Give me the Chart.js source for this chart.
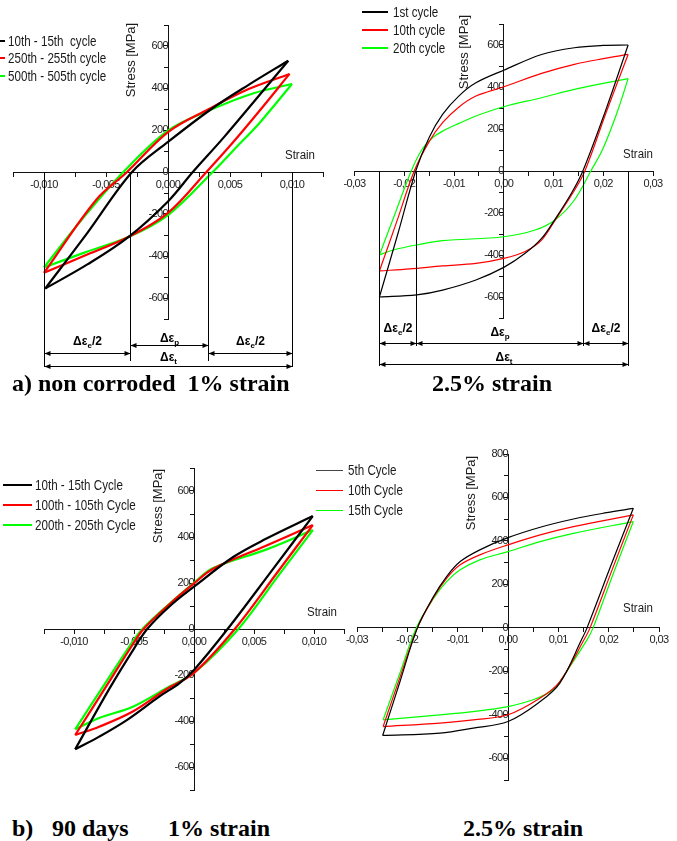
<!DOCTYPE html>
<html>
<head>
<meta charset="utf-8">
<script src="https://cdn.jsdelivr.net/npm/chart.js@4.4.1/dist/chart.umd.min.js"></script>
<style>
  html, body { margin:0; padding:0; background:#fff; }
  #page { position:relative; width:677px; height:841px; overflow:hidden; background:#fff; }
  canvas { position:absolute; }
  .t { position:absolute; white-space:pre; color:#1a1a1a; font-family:"Liberation Sans", Arial, sans-serif; }
  .leg { font-size:14px; line-height:16px; transform:scaleX(0.83); transform-origin:0 50%; }
  .ttl { font-size:13px; line-height:15px; transform:translate(-50%,-50%) rotate(-90deg); }
  .strain { font-size:12.5px; line-height:14px; transform:translate(-50%,-50%) scaleX(0.92); }
  .cap { font-family:"Liberation Serif", "Times New Roman", serif; font-weight:bold; font-size:24px; line-height:26px; color:#000; }
  .ln { position:absolute; }
</style>
</head>
<body>
<div id="page">
  <canvas id="cA1" width="340" height="375" style="left:0;top:0;width:340px;height:375px"></canvas>
  <canvas id="cA2" width="337" height="375" style="left:340px;top:0;width:337px;height:375px"></canvas>
  <canvas id="cB1" width="350" height="360" style="left:0;top:440px;width:350px;height:360px"></canvas>
  <canvas id="cB2" width="337" height="360" style="left:340px;top:440px;width:337px;height:360px"></canvas>
</div>
<script>
// ---- data (strain [-], stress [MPa]); each loop: compression tip -> tension tip -> back
const colors = ["#000000", "#ff0000", "#00ff00"];

// a) non corroded, 1% strain
const a1Labels = ["10th - 15th  cycle", "250th - 255th cycle", "500th - 505th cycle"];
const a1Strain1 = [-0.0099, -0.0065, -0.0029, 0.0000, 0.0035, 0.0065, 0.0097, 0.0075, 0.0045, 0.0020, 0.0000, -0.0032, -0.0065, -0.0099];
const a1Stress1 = [-555, -290, 0, 143, 300, 415, 530, 375, 165, 0, -140, -310, -440, -555];
const a1Strain2 = [-0.0100, -0.0058, -0.0033, 0.0000, 0.0033, 0.0065, 0.0098, 0.0075, 0.0053, 0.0031, 0.0000, -0.0032, -0.0068, -0.0100];
const a1Stress2 = [-480, -133, 0, 190, 300, 395, 467, 300, 145, 0, -195, -310, -400, -480];
const a1Strain3 = [-0.0100, -0.0070, -0.0036, 0.0000, 0.0034, 0.0069, 0.0100, 0.0074, 0.0053, 0.0036, 0.0000, -0.0032, -0.0068, -0.0100];
const a1Stress3 = [-455, -230, 0, 197, 295, 375, 419, 235, 105, 0, -205, -310, -385, -455];
const a1Bounds = [-0.0100, -0.0031, 0.0032, 0.0100];

// a) non corroded, 2.5% strain
const a2Labels = ["1st cycle", "10th cycle", "20th cycle"];
const a2Strain1 = [-0.0250, -0.0213, -0.0177, -0.0150, -0.0123, -0.0090, -0.0056, 0.0000, 0.0076, 0.0142, 0.0200, 0.0250, 0.0205, 0.0159, 0.0136, 0.0103, 0.0076, 0.0043, 0.0000, -0.0056, -0.0123, -0.0175, -0.0250];
const a2Stress1 = [-600, -300, 0, 160, 270, 358, 420, 480, 555, 587, 598, 600, 290, 0, -106, -230, -321, -392, -459, -519, -567, -590, -600];
const a2Strain2 = [-0.0250, -0.0215, -0.0180, -0.0150, -0.0123, -0.0090, -0.0056, 0.0000, 0.0076, 0.0142, 0.0200, 0.0250, 0.0206, 0.0163, 0.0140, 0.0103, 0.0076, 0.0043, 0.0000, -0.0056, -0.0123, -0.0189, -0.0250];
const a2Stress2 = [-476, -240, 0, 140, 230, 305, 357, 401, 465, 508, 535, 555, 280, 0, -100, -235, -329, -383, -416, -440, -452, -466, -476];
const a2Strain3 = [-0.0250, -0.0218, -0.0186, -0.0165, -0.0145, -0.0123, -0.0089, -0.0056, 0.0000, 0.0076, 0.0142, 0.0250, 0.0228, 0.0200, 0.0175, 0.0142, 0.0103, 0.0063, 0.0000, -0.0123, -0.0175, -0.0222, -0.0250];
const a2Stress3 = [-400, -200, 0, 100, 155, 190, 228, 262, 306, 349, 389, 440, 280, 110, 0, -138, -233, -281, -313, -332, -352, -376, -400];
const a2Bounds = [-0.0250, -0.0177, 0.0159, 0.0250];

// b) 90 days, 1% strain
const b1Labels = ["10th - 15th Cycle", "100th - 105th Cycle", "200th - 205th Cycle"];
const b1Strain1 = [-0.0099, -0.0070, -0.0050, -0.0039, -0.0020, 0.0000, 0.0033, 0.0060, 0.0099, 0.0065, 0.0028, 0.0000, -0.0012, -0.0029, -0.0056, -0.0079, -0.0099];
const b1Stress1 = [-523, -255, -85, 0, 100, 184, 314, 392, 491, 255, 0, -178, -235, -294, -396, -468, -523];
const b1Strain2 = [-0.0099, -0.0072, -0.0052, -0.0042, -0.0020, 0.0000, 0.0016, 0.0060, 0.0099, 0.0070, 0.0034, 0.0000, -0.0023, -0.0051, -0.0079, -0.0099];
const b1Stress2 = [-461, -240, -75, 0, 110, 198, 262, 362, 452, 250, 0, -191, -262, -359, -425, -461];
const b1Strain3 = [-0.0099, -0.0072, -0.0053, -0.0043, -0.0020, 0.0000, 0.0016, 0.0060, 0.0099, 0.0070, 0.0037, 0.0000, -0.0023, -0.0051, -0.0079, -0.0099];
const b1Stress3 = [-436, -220, -70, 0, 112, 201, 265, 345, 430, 230, 0, -191, -257, -338, -387, -436];

// b) 90 days, 2.5% strain
const b2Labels = ["5th Cycle", "10th Cycle", "15th Cycle"];
const b2Strain1 = [-0.0249, -0.0215, -0.0180, -0.0148, -0.0122, -0.0095, -0.0056, 0.0000, 0.0064, 0.0130, 0.0196, 0.0249, 0.0205, 0.0157, 0.0146, 0.0103, 0.0064, 0.0000, -0.0069, -0.0135, -0.0249];
const b2Stress1 = [-495, -250, 0, 144, 236, 305, 359, 415, 463, 501, 530, 550, 290, 0, -55, -254, -339, -431, -461, -484, -495];
const b2Strain2 = [-0.0248, -0.0215, -0.0180, -0.0148, -0.0122, -0.0095, -0.0056, 0.0000, 0.0064, 0.0130, 0.0249, 0.0207, 0.0163, 0.0151, 0.0103, 0.0064, 0.0000, -0.0069, -0.0135, -0.0248];
const b2Stress2 = [-454, -230, 0, 140, 228, 290, 336, 382, 428, 466, 520, 268, 0, -55, -247, -323, -400, -423, -438, -454];
const b2Strain3 = [-0.0248, -0.0215, -0.0182, -0.0148, -0.0122, -0.0095, -0.0056, 0.0000, 0.0064, 0.0130, 0.0249, 0.0210, 0.0169, 0.0157, 0.0103, 0.0090, 0.0050, 0.0000, -0.0069, -0.0135, -0.0248];
const b2Stress3 = [-423, -210, 0, 135, 213, 267, 313, 351, 397, 435, 489, 255, 0, -55, -247, -285, -331, -362, -385, -400, -423];

// ---- helpers
const SANS = '"Liberation Sans", Arial, sans-serif';
const page = document.getElementById("page");

// split a loop at the tension tip so both reversal tips stay sharp
function loopDatasets(strain, stress, color, width){
  const pts = strain.map((x,i)=>({x, y:stress[i]}));
  const tip = strain.indexOf(Math.max(...strain));
  const base = { borderColor:color, borderWidth:width, showLine:true, pointRadius:0, tension:0.35, fill:false };
  return [
    { ...base, data: pts.slice(0, tip+1) },
    { ...base, data: pts.slice(tip) }
  ];
}

const strainFmt = (every, digits)=> (v)=>{
  const k = Math.round(v/every);
  if (Math.abs(k*every - v) > every*1e-6) return "";
  const val = Math.abs(k)<1e-9 ? 0 : k*every;
  return val.toFixed(digits).replace(".", ",");
};

function axes(xMin, xMax, xStep, xEvery, xDigits, yMin, yMax){
  const tickFont = { family: SANS, size: 11 };
  return {
    x: {
      type:"linear", min:xMin, max:xMax, position:{ y:0 },
      border:{ color:"#111", width:1 },
      grid:{ drawOnChartArea:false, color:"#111", tickLength:4, tickWidth:1 },
      ticks:{ stepSize:xStep, autoSkip:false, maxRotation:0, padding:2, color:"#222", font:tickFont,
              callback: strainFmt(xEvery, xDigits) }
    },
    y: {
      type:"linear", min:yMin, max:yMax, position:{ x:0 },
      border:{ color:"#111", width:1 },
      grid:{ drawOnChartArea:false, color:"#111", tickLength:4, tickWidth:1 },
      ticks:{ stepSize:100, autoSkip:false, padding:2, color:"#222", font:tickFont,
              callback: (v)=> (v % 200 === 0 ? String(v) : "") }
    }
  };
}

// tick labels of the original are set tight
const tightTicks = {
  id:"tightTicks",
  beforeDraw(chart){ chart.ctx.letterSpacing = "-0.6px"; },
  beforeDatasetsDraw(chart){ chart.ctx.letterSpacing = "0px"; }
};

// Δε brackets under the loops, positioned from the strain scale
const bracketPlugin = {
  id:"brackets",
  afterDraw(chart, args, o){
    if (!o || !o.bounds) return;
    const ctx = chart.ctx, xs = chart.scales.x, ys = chart.scales.y;
    const px = o.bounds.map(v=> Math.round(xs.getPixelForValue(v)) + 0.5);
    const y0 = Math.round(ys.getPixelForValue(0));
    ctx.save();
    ctx.letterSpacing = "0px";
    ctx.strokeStyle = "#000"; ctx.fillStyle = "#000"; ctx.lineWidth = 1;
    px.forEach((x,i)=>{
      const yEnd = (i===0 || i===3) ? o.outerEnd : o.innerEnd;
      ctx.beginPath(); ctx.moveTo(x, y0); ctx.lineTo(x, yEnd); ctx.stroke();
    });
    const arrow = (x1, x2, y)=>{
      y = y + 0.5;
      ctx.beginPath(); ctx.moveTo(x1, y); ctx.lineTo(x2, y); ctx.stroke();
      ctx.beginPath(); ctx.moveTo(x1, y); ctx.lineTo(x1+6, y-2.5); ctx.lineTo(x1+6, y+2.5); ctx.closePath(); ctx.fill();
      ctx.beginPath(); ctx.moveTo(x2, y); ctx.lineTo(x2-6, y-2.5); ctx.lineTo(x2-6, y+2.5); ctx.closePath(); ctx.fill();
    };
    arrow(px[0], px[1], o.rows[0]);
    arrow(px[1], px[2], o.rows[1]);
    arrow(px[2], px[3], o.rows[2]);
    arrow(px[0], px[3], o.totalRow);

    const label = (cx, cy, sub, tail)=>{
      const big = "bold 12px " + SANS;
      const small = "bold 8px " + SANS;
      ctx.textBaseline = "middle"; ctx.textAlign = "left";
      ctx.font = big; const w1 = ctx.measureText("Δε").width; const w3 = ctx.measureText(tail).width;
      ctx.font = small; const w2 = ctx.measureText(sub).width;
      let x = cx - (w1+w2+w3)/2;
      ctx.font = big; ctx.fillText("Δε", x, cy); x += w1;
      ctx.font = small; ctx.fillText(sub, x, cy+4); x += w2;
      ctx.font = big; ctx.fillText(tail, x, cy);
    };
    label((px[0]+px[1])/2, o.labelRows[0], "e", "/2");
    label((px[1]+px[2])/2, o.labelRows[1], "p", "");
    label((px[2]+px[3])/2, o.labelRows[2], "e", "/2");
    label((px[0]+px[3])/2, o.totalLabel, "t", "");
    ctx.restore();
  }
};

function makeChart(id, datasets, scales, padding, brackets){
  return new Chart(document.getElementById(id), {
    type:"scatter",
    data:{ datasets },
    options:{
      responsive:false, animation:false, devicePixelRatio:1, events:[],
      layout:{ padding },
      plugins:{ legend:{ display:false }, tooltip:{ enabled:false }, brackets: brackets || false },
      scales
    },
    plugins:[tightTicks, bracketPlugin]
  });
}

function addText(cls, text, left, top){
  const d = document.createElement("div");
  d.className = "t " + cls; d.textContent = text;
  d.style.left = left + "px"; d.style.top = top + "px";
  page.appendChild(d);
  return d;
}
function addLegend(labels, lineColors, lineX, lineW, lineH, textX, rows){
  labels.forEach((lab,i)=>{
    const ln = document.createElement("div");
    ln.className = "ln";
    ln.style.left = lineX + "px"; ln.style.width = lineW + "px";
    ln.style.top = (rows[i] - lineH/2) + "px"; ln.style.height = lineH + "px";
    ln.style.background = lineColors[i];
    page.appendChild(ln);
    addText("leg", lab, textX, rows[i] - 8);
  });
}

// ---- charts
makeChart("cA1", [
  ...loopDatasets(a1Strain1, a1Stress1, colors[0], 2.2),
  ...loopDatasets(a1Strain2, a1Stress2, colors[1], 2.2),
  ...loopDatasets(a1Strain3, a1Stress3, colors[2], 2.2)
], axes(-0.0125, 0.0125, 0.0025, 0.005, 3, -700, 700), { left:13, top:25, right:17, bottom:56 },
{ bounds:a1Bounds, innerEnd:361, outerEnd:367, rows:[353, 345, 353], totalRow:366, labelRows:[342, 339, 342], totalLabel:358 });

makeChart("cA2", [
  ...loopDatasets(a2Strain1, a2Stress1, colors[0], 1.2),
  ...loopDatasets(a2Strain2, a2Stress2, colors[1], 1.2),
  ...loopDatasets(a2Strain3, a2Stress3, colors[2], 1.2)
], axes(-0.03, 0.03, 0.005, 0.01, 2, -700, 700), { left:11, top:24, right:24, bottom:57 },
{ bounds:a2Bounds, innerEnd:346, outerEnd:366, rows:[343, 343, 343], totalRow:364, labelRows:[329, 333, 329], totalLabel:358 });

makeChart("cB1", [
  ...loopDatasets(b1Strain1, b1Stress1, colors[0], 2.2),
  ...loopDatasets(b1Strain2, b1Stress2, colors[1], 2.2),
  ...loopDatasets(b1Strain3, b1Stress3, colors[2], 2.2)
], axes(-0.0125, 0.0125, 0.0025, 0.005, 3, -700, 700), { left:44, top:28, right:6, bottom:10 });

makeChart("cB2", [
  ...loopDatasets(b2Strain1, b2Stress1, colors[0], 1.2),
  ...loopDatasets(b2Strain2, b2Stress2, colors[1], 1.2),
  ...loopDatasets(b2Strain3, b2Stress3, colors[2], 1.2)
], axes(-0.03, 0.03, 0.005, 0.01, 2, -700, 800), { left:17, top:14, right:18, bottom:20 });

// ---- legends, axis titles, captions
addLegend(a1Labels, colors, -20, 25, 2, 8, [41, 58, 76]);
addLegend(a2Labels, colors, 362, 26, 1.5, 393, [12, 30, 48]);
addLegend(b1Labels, colors, 3, 29, 2, 35, [485, 505, 525]);
addLegend(b2Labels, ["#444444", colors[1], colors[2]], 316, 27, 1, 348, [470, 490, 510]);

addText("ttl", "Stress [MPa]", 130, 60);
addText("ttl", "Stress [MPa]", 463, 52);
addText("ttl", "Stress [MPa]", 157, 506);
addText("ttl", "Stress [MPa]", 470, 493);
addText("strain", "Strain", 300, 155);
addText("strain", "Strain", 638, 154);
addText("strain", "Strain", 322, 612);
addText("strain", "Strain", 638, 608);

addText("cap", "a) non corroded  1% strain", 12, 370);
addText("cap", "2.5% strain", 432, 370);
addText("cap", "b)", 12, 815);
addText("cap", "90 days", 52, 815);
addText("cap", "1% strain", 168, 815);
addText("cap", "2.5% strain", 463, 815);
</script>
</body>
</html>
